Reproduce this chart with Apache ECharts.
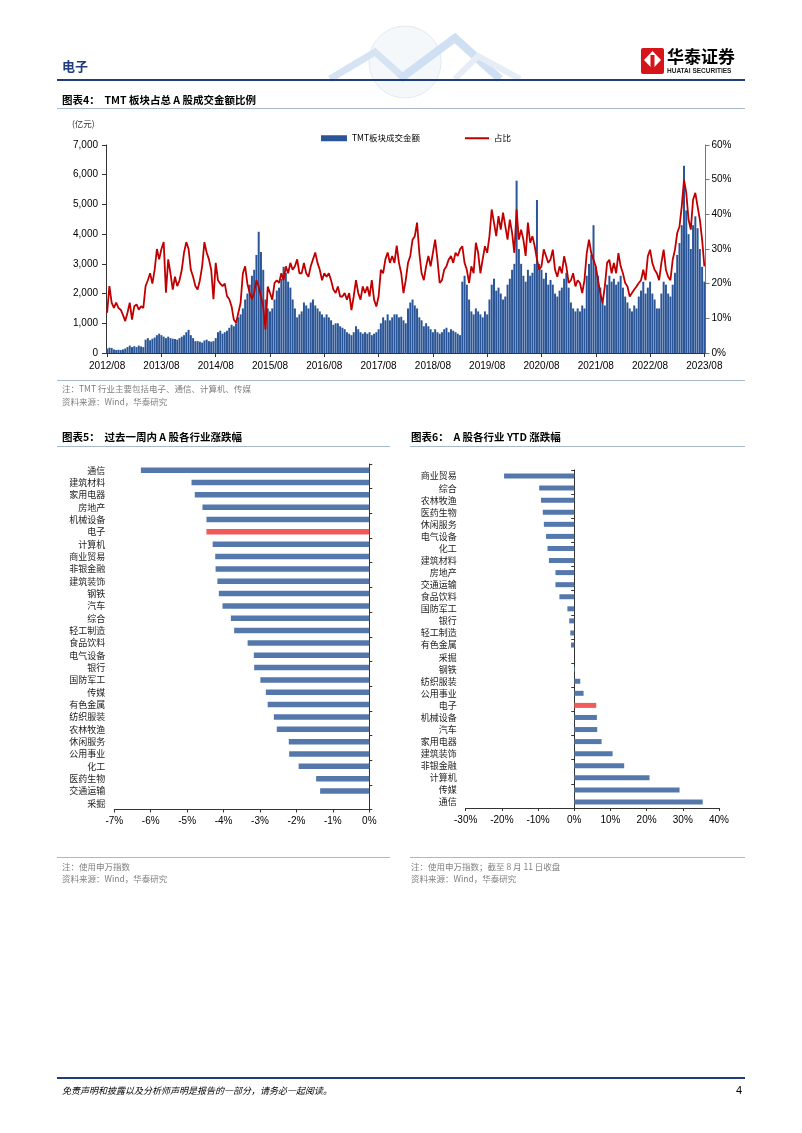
<!DOCTYPE html>
<html><head><meta charset="utf-8">
<script src="https://cdn.jsdelivr.net/npm/echarts@6/dist/echarts.min.js"></script>
<style>html,body{margin:0;padding:0;background:#fff}#c{width:802px;height:1133px}</style>
</head><body><div id="c"></div>
<script>
// ---------- Chart 4 data (half-month samples, 2012/08 -> 2023/08) ----------
const turnover = [
150,180,170,120,100,110,100,120,150,200,
250,200,230,200,250,220,200,450,500,430,
480,520,600,650,600,550,500,550,500,480,
470,450,500,550,600,700,780,600,500,400,
400,380,350,420,450,400,380,400,500,700,
750,650,700,750,850,950,900,1000,1200,1300,
1500,1800,2000,2300,2600,2800,
3300,4080,3400,2800,1800,1500,1400,1500,1800,2100,
2200,2500,2900,2700,2400,2200,1800,1500,1200,1300,
1400,1700,1600,1500,1700,1800,1600,1500,1400,1300,
1200,1300,1200,1100,950,1000,1000,900,850,800,
700,650,600,700,900,800,700,650,700,650,
700,600,650,700,800,1000,1200,1100,1300,1100,
1200,1300,1300,1200,
1220,1100,1000,1500,1700,1800,1600,1500,1200,1100,
900,1000,900,800,700,800,700,650,700,800,
850,700,800,750,700,650,600,2400,2600,2300,
1800,1400,1300,1500,1400,1300,1200,1400,1300,1800,
2300,2500,2100,2200,2000,1800,1900,2300,2500,2800,
3000,5800,3500,3000,2600,2400,2800,2600,2700,3000,
5150,3000,2800,2500,2700,2300,2460,2300,
2000,1900,2100,2200,2500,2700,2200,1700,1500,1400,
1500,1400,1600,1500,2600,3000,3300,4300,2900,2600,
2200,1700,1600,2300,2600,2400,2500,2300,2400,2600,
2200,1900,1700,1500,1400,1600,1500,1900,2100,2400,
2000,2200,2400,2000,1800,1500,1500,2000,2400,2300,
2000,1900,2300,2700,3300,3700,4300,6300,4800,4000,
3500,4300,4600,4200,3500,2900,2400
];
const ratio = [
11.6,19.3,14.5,13,14.5,13,12.5,11,9.2,11.6,
14.5,9.6,13.5,14,12.5,13.5,13,19.3,21,23,
20,24,30,27,30,32,17.4,27,23,18.3,
22,19.3,21,24,29,32,30,24,22,19.3,
18.3,21,25,32,29,27,24,15.5,26,21,
20,19.3,20,16.4,15.5,13.5,9.6,8.7,11.6,14.5,
23,25,20,17.4,15.5,17.3,
21,19.2,16.3,13.4,6.7,19.2,17.3,15.4,20.2,21,
20.2,23,21,25,23,26,24,25,27,23,
23,26,23,22,25,27,29,26,24,21,
23,22,23,21,18.3,17.3,19.2,16.3,16.3,17.3,
15.4,17.3,12.4,16.3,21,17.3,15.4,19.2,17.3,19.2,
16.3,21,15.4,13.4,16.3,24,23,27,29,26,
28,26,31,26,
23,17.3,21,26,28,32.7,33.7,37.6,28.9,23,
21,25,28,25,28.9,32.7,27,20.2,21,24,
25,27,28,26,28.9,28,29.9,30.8,26,24,
20.2,25,23,31.8,28.9,23,27,30.8,28.9,33.7,
41.4,37.6,33.7,39.5,35.6,40.5,36.6,32.7,38.5,34.7,
28.9,41.4,32.7,35.6,32.7,28,37.6,31.8,33.7,30.8,
27,24,25,29.9,28,26,27,29.8,
24,22,25,23,27.9,25,20.2,21,23,19.2,
21,20.2,17.3,21,28.8,32.7,28.8,26.9,25,21,
17.3,14.4,19.2,26,26.9,23,26,23,28.8,25,
23,20.2,19.2,16.3,17.3,18.3,19.2,20.2,21,24,
21,27.9,29.8,26,24,23,21,26,29.8,24,
22,21,26.9,29.8,34.6,36.5,42.3,50,46.2,38.5,
35.6,44.2,46.2,42.3,38.5,32.7,25
];
const leftTicks = [0, 1000, 7000];   // min, interval, max (亿元)
const rightTicks = [0, 10, 60];      // min, interval, max (%)

// ---------- Chart 5 data ----------
const weekCats = ['通信','建筑材料','家用电器','房地产','机械设备','电子','计算机','商业贸易','非银金融','建筑装饰','钢铁','汽车','综合','轻工制造','食品饮料','电气设备','银行','国防军工','传媒','有色金属','纺织服装','农林牧渔','休闲服务','公用事业','化工','医药生物','交通运输','采掘'];
const weekVals = [-6.27,-4.88,-4.79,-4.58,-4.47,-4.47,-4.30,-4.23,-4.22,-4.17,-4.13,-4.03,-3.80,-3.71,-3.34,-3.17,-3.16,-2.99,-2.84,-2.79,-2.62,-2.54,-2.21,-2.20,-1.94,-1.46,-1.35,0];

// ---------- Chart 6 data ----------
const ytdCats = ['商业贸易','综合','农林牧渔','医药生物','休闲服务','电气设备','化工','建筑材料','房地产','交通运输','食品饮料','国防军工','银行','轻工制造','有色金属','采掘','钢铁','纺织服装','公用事业','电子','机械设备','汽车','家用电器','建筑装饰','非银金融','计算机','传媒','通信'];
const ytdVals = [-19.4,-9.7,-9.2,-8.7,-8.4,-7.8,-7.4,-7.0,-5.2,-5.2,-4.1,-1.9,-1.4,-1.1,-0.9,0,0.2,1.66,2.58,6.08,6.26,6.35,7.55,10.6,13.8,20.8,29.1,35.5];

const highlight = '电子';

// half-month category names
const dates = [];
for (let i = 0; i < turnover.length; i++) {
  const m = 7 + Math.floor(i / 2);
  const y = 2012 + Math.floor(m / 12);
  const mm = String(m % 12 + 1).padStart(2, '0');
  dates.push(y + '/' + mm + '/' + (i % 2 ? '16' : '01'));
}

const CN = '"Noto Sans CJK SC", sans-serif';
const LAT = '"Liberation Sans", Arial, sans-serif';
const NAVY = '#1F3D7A';
const BLUEBAR = '#5478AC';
const REDBAR = '#F2595B';

function T(x, y, text, o) {
  o = o || {};
  return {type: 'text', x: x, y: y, silent: true, style: {
    text: text, fill: o.fill || '#000', textAlign: o.align || 'left', textVerticalAlign: 'middle',
    font: (o.italic ? 'italic ' : '') + (o.bold ? 'bold ' : '') + (o.size || 10) + 'px ' + (o.family || CN)
  }};
}
function L(x1, y1, x2, y2, color, w) {
  return {type: 'line', silent: true, shape: {x1: x1, y1: y1, x2: x2, y2: y2}, style: {stroke: color, lineWidth: w || 1}};
}

const graphics = [
  // header watermark (faint)
  {type: 'circle', silent: true, shape: {cx: 405, cy: 62, r: 36}, style: {fill: 'rgba(222,231,242,0.3)', stroke: '#E3EAF3', lineWidth: 1}},
  {type: 'polyline', silent: true, shape: {points: [[330, 79], [375, 52], [405, 79]]}, style: {stroke: '#D6E3F2', lineWidth: 7, fill: null}},
  {type: 'polyline', silent: true, shape: {points: [[400, 79], [455, 38], [500, 79]]}, style: {stroke: '#CFE0F2', lineWidth: 8, fill: null}},
  {type: 'polyline', silent: true, shape: {points: [[455, 79], [478, 56], [520, 79]]}, style: {stroke: '#E6EDF6', lineWidth: 6, fill: null}},
  T(62, 66, '电子', {size: 13, bold: true, fill: NAVY}),
  // logo
  {type: 'rect', silent: true, shape: {x: 641, y: 48, width: 23, height: 26, r: 2}, style: {fill: '#D7141A'}},
  {type: 'polygon', silent: true, shape: {points: [[652.5, 51], [661, 60], [652.5, 69], [644, 60]]}, style: {fill: '#fff'}},
  {type: 'rect', silent: true, shape: {x: 650.5, y: 55, width: 4, height: 17}, style: {fill: '#D7141A'}},
  T(667, 57, '华泰证券', {size: 17, bold: true}),
  T(667, 71, 'HUATAI SECURITIES', {size: 6.5, bold: true, family: LAT, fill: '#222'}),
  L(57, 80, 745, 80, NAVY, 2),
  // chart 4 headings
  T(62, 100, '图表4：  TMT 板块占总 A 股成交金额比例', {size: 10.5, bold: true}),
  L(57, 108.5, 745, 108.5, '#A9B8CC', 1),
  T(72, 124, '(亿元)', {size: 8.5, fill: '#333'}),
  L(57, 380.5, 745, 380.5, '#A9B8CC', 1),
  T(62, 389, '注：TMT 行业主要包括电子、通信、计算机、传媒', {size: 8.5, fill: '#7F7F7F'}),
  T(62, 402, '资料来源：Wind，华泰研究', {size: 8.5, fill: '#7F7F7F'}),
  // chart 5 headings
  T(62, 437, '图表5：  过去一周内 A 股各行业涨跌幅', {size: 10.5, bold: true}),
  L(57, 446.5, 390, 446.5, '#A9B8CC', 1),
  L(57, 857.5, 390, 857.5, '#A9B8CC', 1),
  T(62, 867, '注：使用申万指数', {size: 8.5, fill: '#7F7F7F'}),
  T(62, 879, '资料来源：Wind，华泰研究', {size: 8.5, fill: '#7F7F7F'}),
  // chart 6 headings
  T(411, 437, '图表6：  A 股各行业 YTD 涨跌幅', {size: 10.5, bold: true}),
  L(410, 446.5, 745, 446.5, '#A9B8CC', 1),
  L(410, 857.5, 745, 857.5, '#A9B8CC', 1),
  T(411, 867, '注：使用申万指数；截至 8 月 11 日收盘', {size: 8.5, fill: '#7F7F7F'}),
  T(411, 879, '资料来源：Wind，华泰研究', {size: 8.5, fill: '#7F7F7F'}),
  // footer
  L(57, 1078, 745, 1078, NAVY, 2),
  T(62, 1091, '免责声明和披露以及分析师声明是报告的一部分，请务必一起阅读。', {size: 9, italic: true}),
  T(742, 1091, '4', {size: 11, family: LAT, align: 'right'})
];

const axLine = {show: true, lineStyle: {color: '#333', width: 1}};
const lblNum = {fontFamily: LAT, fontSize: 10, color: '#000'};
const legendText = {fontFamily: CN, fontSize: 8.5, color: '#000'};

const chart = echarts.init(document.getElementById('c'), null, {renderer: 'canvas'});
chart.setOption({
  animation: false,
  backgroundColor: '#fff',
  graphic: graphics,
  legend: [
    {left: 316, top: 129, itemWidth: 26, itemHeight: 6, icon: 'rect',
     data: ['TMT板块成交金额'], textStyle: legendText},
    {left: 460, top: 129, itemWidth: 24, itemHeight: 2, icon: 'rect',
     data: ['占比'], textStyle: legendText}
  ],
  grid: [
    {left: 106, top: 145, width: 599.5, height: 208},
    {left: 114.3, top: 464, width: 255, height: 345.5},
    {left: 465.7, top: 470, width: 253.3, height: 338}
  ],
  xAxis: [
    {type: 'category', gridIndex: 0, data: dates, boundaryGap: true,
     axisLine: axLine,
     axisTick: {show: true, interval: 23, alignWithLabel: true, length: 4, lineStyle: {color: '#333'}},
     axisLabel: Object.assign({interval: 23, margin: 8, formatter: v => v.slice(0, 7)}, lblNum)},
    {type: 'value', gridIndex: 1, min: -7, max: 0, interval: 1,
     axisLine: axLine, axisTick: {show: true, length: 3, lineStyle: {color: '#333'}},
     splitLine: {show: false},
     axisLabel: Object.assign({margin: 7, formatter: '{value}%'}, lblNum)},
    {type: 'value', gridIndex: 2, min: -30, max: 40, interval: 10,
     axisLine: axLine, axisTick: {show: true, length: 3, lineStyle: {color: '#333'}},
     splitLine: {show: false},
     axisLabel: Object.assign({margin: 7, formatter: '{value}%'}, lblNum)}
  ],
  yAxis: [
    {type: 'value', gridIndex: 0, min: leftTicks[0], interval: leftTicks[1], max: leftTicks[2], position: 'left',
     axisLine: axLine, axisTick: {show: true, length: 4, lineStyle: {color: '#333'}}, splitLine: {show: false},
     axisLabel: Object.assign({margin: 8, formatter: v => v.toLocaleString('en-US')}, lblNum)},
    {type: 'value', gridIndex: 0, min: rightTicks[0], interval: rightTicks[1], max: rightTicks[2], position: 'right',
     axisLine: {show: true, lineStyle: {color: '#777'}}, axisTick: {show: true, length: 4, lineStyle: {color: '#777'}}, splitLine: {show: false},
     axisLabel: Object.assign({margin: 6, formatter: '{value}%'}, lblNum)},
    // chart 5 : axis line at 0 (right edge)
    {type: 'category', gridIndex: 1, data: weekCats, inverse: true, position: 'right',
     axisLine: axLine, axisTick: {show: true, length: 3, lineStyle: {color: '#333'}}, axisLabel: {show: false}},
    // chart 5 : labels on the left
    {type: 'category', gridIndex: 1, data: weekCats, inverse: true, position: 'left',
     axisLine: {show: false, onZero: false}, axisTick: {show: false},
     axisLabel: {margin: 9, fontFamily: CN, fontSize: 9, color: '#222'}},
    // chart 6 : axis line at zero
    {type: 'category', gridIndex: 2, data: ytdCats, inverse: true, position: 'left',
     axisLine: {show: true, onZero: true, lineStyle: {color: '#333'}}, axisTick: {show: true, length: 3, lineStyle: {color: '#333'}}, axisLabel: {show: false}},
    // chart 6 : labels on the left
    {type: 'category', gridIndex: 2, data: ytdCats, inverse: true, position: 'left',
     axisLine: {show: false, onZero: false}, axisTick: {show: false},
     axisLabel: {margin: 9, fontFamily: CN, fontSize: 9, color: '#222'}}
  ],
  series: [
    {name: 'TMT板块成交金额', type: 'bar', xAxisIndex: 0, yAxisIndex: 0, data: turnover,
     barCategoryGap: '12%', itemStyle: {color: '#2A5597'}},
    {name: '占比', type: 'line', xAxisIndex: 0, yAxisIndex: 1, data: ratio,
     symbol: 'none', lineStyle: {color: '#C00000', width: 1.8}, itemStyle: {color: '#C00000'}},
    {type: 'bar', xAxisIndex: 1, yAxisIndex: 2, barWidth: 5.5,
     data: weekVals.map((v, i) => ({value: v, itemStyle: {color: weekCats[i] === highlight ? REDBAR : BLUEBAR}}))},
    {type: 'bar', xAxisIndex: 2, yAxisIndex: 4, barWidth: 5,
     data: ytdVals.map((v, i) => ({value: v, itemStyle: {color: ytdCats[i] === highlight ? REDBAR : BLUEBAR}}))}
  ]
});
</script></body></html>
